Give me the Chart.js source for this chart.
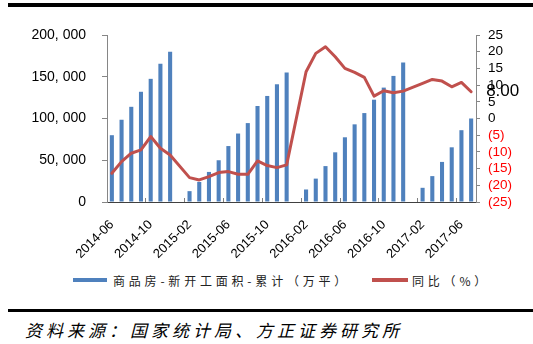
<!DOCTYPE html>
<html>
<head>
<meta charset="utf-8">
<script src="https://cdn.jsdelivr.net/npm/chart.js@4.4.0/dist/chart.umd.min.js"></script>
<style>
  html, body { margin: 0; padding: 0; background: #fff; }
  #wrap { position: relative; width: 533px; height: 344px; overflow: hidden; }
  #chart { position: absolute; left: 0; top: 0; }
  .rule { position: absolute; left: 8px; right: 0; background: #000; }
  .legend-item { position: absolute; top: 272px; height: 16px; display: flex; align-items: center;
    white-space: nowrap; font: 12px "Noto Sans CJK SC"; letter-spacing: 3.8px; color: #222; }
  .swatch { display: inline-block; height: 4px; }
  #source { position: absolute; left: 25px; top: 317px; line-height: 20px; white-space: nowrap;
    font: italic 17px "Noto Sans CJK SC"; letter-spacing: 4px; color: #000; }
</style>
</head>
<body>
<div id="wrap">
  <div class="rule" style="top:3px;height:4px"></div>
  <canvas id="chart" width="533" height="262"></canvas>
  <div class="legend-item" style="left:73px"><span class="swatch" style="width:34px;margin-right:6px;background:#4F81BD"></span><span id="lg0"></span></div>
  <div class="legend-item" style="left:372px"><span class="swatch" style="width:36px;margin-right:4px;background:#C0504D"></span><span id="lg1"></span></div>
  <div class="rule" style="top:309px;height:3px"></div>
  <div id="source">资料来源：国家统计局、方正证券研究所</div>
</div>
<script>
const months = [
  "2014-06", "2014-07", "2014-08", "2014-09", "2014-10", "2014-11", "2014-12",
  "2015-01", "2015-02", "2015-03", "2015-04", "2015-05", "2015-06", "2015-07",
  "2015-08", "2015-09", "2015-10", "2015-11", "2015-12",
  "2016-01", "2016-02", "2016-03", "2016-04", "2016-05", "2016-06", "2016-07",
  "2016-08", "2016-09", "2016-10", "2016-11", "2016-12",
  "2017-01", "2017-02", "2017-03", "2017-04", "2017-05", "2017-06", "2017-07",
];

// 商品房新开工面积累计（万平），1月无数据
const newStarts = [
  80000, 98500, 114000, 132000, 147500, 165500, 180000,
  null, 13000, 24000, 36000, 50000, 67000, 82000,
  94500, 115000, 127000, 141000, 155000,
  null, 15000, 28000, 43000, 59500, 77500, 93000,
  106500, 122500, 137000, 151000, 167000,
  null, 17000, 31000, 48000, 65500, 86000, 100000,
];

// 同比（%）
const yoy = [
  -16.4, -12.9, -10.4, -9.4, -5.4, -8.9, -10.9,
  null, -17.7, -18.4, -17.4, -16.2, -15.9, -16.7,
  -16.7, -12.7, -14.1, -14.7, -13.9,
  null, 14.0, 19.5, 21.5, 18.5, 15.0, 13.8,
  12.3, 6.7, 8.3, 7.7, 8.2,
  null, 10.5, 11.7, 11.2, 9.5, 10.8, 8.0,
];

const seriesNames = ["商品房-新开工面积-累计（万平）", "同比（%）"];

document.getElementById("lg0").textContent = seriesNames[0];
document.getElementById("lg1").textContent = seriesNames[1];

const axisFont = '"Liberation Sans", Arial, sans-serif';

function thousands(v) {
  return String(v).replace(/\B(?=(\d{3})+(?!\d))/g, ", ");
}

// label on the last point of the line
const lastLabel = {
  id: "lastLabel",
  afterDatasetsDraw(chart) {
    const meta = chart.getDatasetMeta(0);
    const pt = meta.data[meta.data.length - 1];
    const ctx = chart.ctx;
    ctx.save();
    ctx.font = "17px " + axisFont;
    ctx.fillStyle = "#000";
    ctx.textBaseline = "middle";
    ctx.textAlign = "left";
    ctx.fillText(yoy[yoy.length - 1].toFixed(2), pt.x + 15, pt.y);
    ctx.restore();
  },
};

new Chart(document.getElementById("chart").getContext("2d"), {
  type: "bar",
  data: {
    labels: months,
    datasets: [
      {
        type: "line",
        label: seriesNames[1],
        data: yoy,
        yAxisID: "y1",
        borderColor: "#C0504D",
        borderWidth: 3,
        pointRadius: 0,
        tension: 0,
        spanGaps: true,
        borderJoinStyle: "round",
        borderCapStyle: "round",
      },
      {
        label: seriesNames[0],
        data: newStarts,
        yAxisID: "y",
        backgroundColor: "#4F81BD",
        barPercentage: 0.42,
        categoryPercentage: 1.0,
      },
    ],
  },
  options: {
    responsive: false,
    animation: false,
    devicePixelRatio: 1,
    layout: { padding: { top: 35, left: 0, right: 0, bottom: 0 } },
    plugins: {
      legend: { display: false },
      tooltip: { enabled: false },
    },
    scales: {
      x: {
        offset: true,
        grid: {
          display: true,
          drawOnChartArea: false,
          offset: true,
          tickLength: -4,
          tickColor: (c) => (c.index % 4 === 0 ? "#808080" : "rgba(0,0,0,0)"),
        },
        border: { display: true, color: "#404040", width: 1 },
        ticks: {
          autoSkip: false,
          maxRotation: 45,
          minRotation: 45,
          padding: 19,
          color: "#000",
          font: { family: axisFont, size: 13 },
          callback: (v, i) => (i % 4 === 0 ? months[i] : ""),
        },
        afterFit: (s) => { s.height = 60; },
      },
      y: {
        position: "left",
        min: 0,
        max: 200000,
        grid: { display: true, drawOnChartArea: false, tickLength: 5, tickColor: "#868686" },
        border: { display: true, color: "#868686", width: 1 },
        ticks: {
          stepSize: 50000,
          autoSkip: false,
          padding: 16,
          color: "#000",
          font: { family: axisFont, size: 14 },
          callback: (v) => thousands(v),
        },
        afterFit: (s) => { s.width = 107; },
      },
      y1: {
        position: "right",
        min: -25,
        max: 25,
        grid: { display: true, drawOnChartArea: false, tickLength: 4, tickColor: "#868686" },
        border: { display: true, color: "#868686", width: 1 },
        ticks: {
          stepSize: 5,
          autoSkip: false,
          padding: 8,
          color: (c) => (c.tick.value < 0 ? "#FF0000" : "#000"),
          font: { family: axisFont, size: 13.5 },
          callback: (v) => (v < 0 ? "(" + -v + ")" : String(v)),
        },
        afterFit: (s) => { s.width = 57; },
      },
    },
  },
  plugins: [lastLabel],
});
</script>
</body>
</html>
